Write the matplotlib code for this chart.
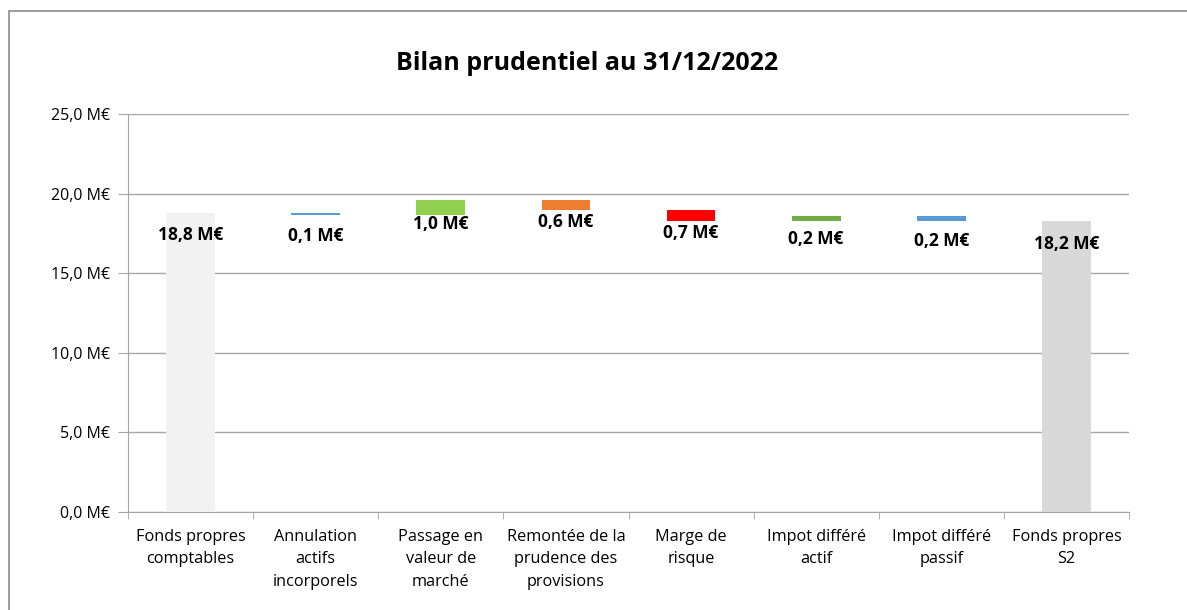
import matplotlib.pyplot as plt
from matplotlib.patches import Rectangle
from matplotlib.ticker import FuncFormatter
import numpy as np

plt.rcParams['font.family'] = ['Open Sans', 'DejaVu Sans']

CATEGORIES = [
    "Fonds propres\ncomptables",
    "Annulation\nactifs\nincorporels",
    "Passage en\nvaleur de\nmarché",
    "Remontée de la\nprudence des\nprovisions",
    "Marge de\nrisque",
    "Impot différé\nactif",
    "Impot différé\npassif",
    "Fonds propres\nS2",
]

# valeurs en M€ : total de départ, variations, total final
DEPART = 18.78
VARIATIONS = [-0.13, 0.94, -0.63, -0.69, 0.32, -0.29]
FINAL = 18.28
ETIQUETTES = ["18,8 M€", "0,1 M€", "1,0 M€", "0,6 M€", "0,7 M€", "0,2 M€", "0,2 M€", "18,2 M€"]

COULEURS = ["#F2F2F2", "#5B9BD5", "#92D050", "#ED7D31", "#FF0000", "#70AD47", "#5B9BD5", "#D9D9D9"]
# décalage des étiquettes sous la barre (pixels)
DECALAGES = [13, 12, 0, 3, 3, 9, 11, 14]

niveaux = DEPART + np.cumsum([0] + VARIATIONS)
bas = [0] + [min(niveaux[i], niveaux[i + 1]) for i in range(len(VARIATIONS))] + [0]
haut = [DEPART] + [abs(v) for v in VARIATIONS] + [FINAL]

fig = plt.figure(figsize=(11.87, 6.10), dpi=100)
ax = fig.add_axes([128 / 1187, 1 - 512 / 610, (1129 - 128) / 1187, (512 - 114) / 610])

x = np.arange(len(CATEGORIES))
ax.bar(x, haut, 0.39, bottom=bas, color=COULEURS, zorder=3)

for i in range(len(CATEGORIES)):
    if i == 0 or i == len(CATEGORIES) - 1:
        ref = bas[i] + haut[i]
    else:
        ref = bas[i]
    ax.annotate(ETIQUETTES[i], (x[i], ref), xytext=(0, -DECALAGES[i] * 0.72),
                textcoords="offset points", ha="center", va="top",
                fontsize=12.5, fontweight="bold", color="black", zorder=4)

ax.set_ylim(0, 25)
ax.set_xlim(-0.5, len(CATEGORIES) - 0.5)
ax.set_yticks(np.arange(0, 26, 5))
ax.yaxis.set_major_formatter(FuncFormatter(lambda v, p: f"{v:.1f}".replace(".", ",") + " M€"))
ax.grid(axis="y", color="#A6A6A6", linewidth=1, zorder=0)

ax.set_xticks(x)
ax.set_xticklabels(CATEGORIES, fontsize=11.7, linespacing=1.55, va="top")
ax.set_xticks(np.arange(-0.5, len(CATEGORIES)), minor=True)
ax.tick_params(axis="x", which="major", length=0, pad=12)
ax.tick_params(axis="x", which="minor", length=5, color="#A6A6A6", direction="out")
ax.tick_params(axis="y", length=7, color="#A6A6A6", labelsize=11.5, pad=6)

for side in ["top", "right"]:
    ax.spines[side].set_visible(False)
ax.spines["left"].set_color("#A6A6A6")
ax.spines["bottom"].set_color("#A6A6A6")

fig.text(587 / 1187, 1 - 64 / 610, "Bilan prudentiel au 31/12/2022",
         ha="center", va="center", fontsize=18, fontweight="bold")

# cadre du graphique
fig.patches.append(Rectangle((9 / 1187, -0.1), 1.2, 1 - 11 / 610 + 0.1,
                             transform=fig.transFigure, fill=False,
                             edgecolor="#8C8C8C", linewidth=1.2))

fig.savefig("out.png", dpi=100)
